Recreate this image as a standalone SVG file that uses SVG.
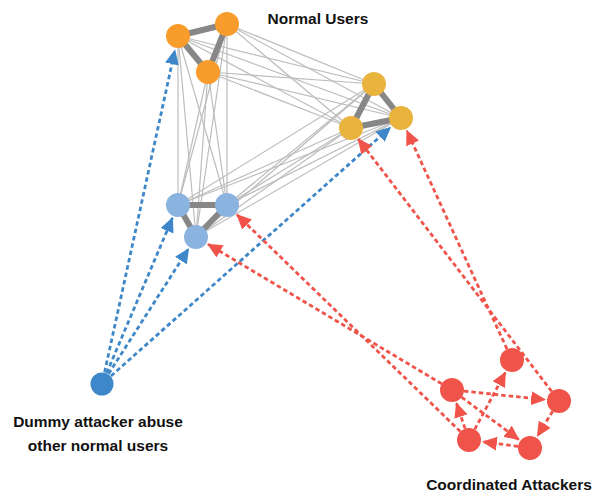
<svg xmlns="http://www.w3.org/2000/svg" width="593" height="496" viewBox="0 0 593 496">
<style>
.thin{stroke:#bdbdbd;stroke-width:1.2;fill:none}
.thick{stroke:#878787;stroke-width:6;fill:none}
.db{stroke:#3e87c9;stroke-width:2.8;stroke-dasharray:4.5 3;fill:none;marker-end:url(#ab)}
.dr{stroke:#ef534a;stroke-width:2.8;stroke-dasharray:4.5 3;fill:none;marker-end:url(#ar)}
.or{fill:#f89c2c}.ye{fill:#e9b43e}.lb{fill:#8bb3e0}.du{fill:#3e87c9}.rd{fill:#ef534a}
text{font-family:"Liberation Sans",Arial,sans-serif;font-weight:bold;font-size:15.5px;fill:#111;text-anchor:middle}
</style>
<defs>
<marker id="ab" markerUnits="userSpaceOnUse" markerWidth="15" markerHeight="14" viewBox="0 0 15 14" refX="14" refY="7" orient="auto"><path d="M0,0 L15,7 L0,14 z" fill="#3e87c9"/></marker>
<marker id="ar" markerUnits="userSpaceOnUse" markerWidth="15" markerHeight="14" viewBox="0 0 15 14" refX="14" refY="7" orient="auto"><path d="M0,0 L15,7 L0,14 z" fill="#ef534a"/></marker>
</defs>
<g id="connectors">
<g id="thin-edges">
<line class="thin" x1="178" y1="36" x2="374" y2="84"/>
<line class="thin" x1="178" y1="36" x2="401" y2="118"/>
<line class="thin" x1="178" y1="36" x2="351" y2="128"/>
<line class="thin" x1="227" y1="24" x2="374" y2="84"/>
<line class="thin" x1="227" y1="24" x2="401" y2="118"/>
<line class="thin" x1="227" y1="24" x2="351" y2="128"/>
<line class="thin" x1="208" y1="72" x2="374" y2="84"/>
<line class="thin" x1="208" y1="72" x2="401" y2="118"/>
<line class="thin" x1="208" y1="72" x2="351" y2="128"/>
<line class="thin" x1="178" y1="36" x2="178" y2="205"/>
<line class="thin" x1="178" y1="36" x2="227" y2="205"/>
<line class="thin" x1="178" y1="36" x2="196" y2="237"/>
<line class="thin" x1="227" y1="24" x2="178" y2="205"/>
<line class="thin" x1="227" y1="24" x2="227" y2="205"/>
<line class="thin" x1="227" y1="24" x2="196" y2="237"/>
<line class="thin" x1="208" y1="72" x2="178" y2="205"/>
<line class="thin" x1="208" y1="72" x2="227" y2="205"/>
<line class="thin" x1="208" y1="72" x2="196" y2="237"/>
<line class="thin" x1="374" y1="84" x2="178" y2="205"/>
<line class="thin" x1="374" y1="84" x2="227" y2="205"/>
<line class="thin" x1="374" y1="84" x2="196" y2="237"/>
<line class="thin" x1="401" y1="118" x2="178" y2="205"/>
<line class="thin" x1="401" y1="118" x2="227" y2="205"/>
<line class="thin" x1="401" y1="118" x2="196" y2="237"/>
<line class="thin" x1="351" y1="128" x2="178" y2="205"/>
<line class="thin" x1="351" y1="128" x2="227" y2="205"/>
<line class="thin" x1="351" y1="128" x2="196" y2="237"/>
</g>
<g id="thick-edges">
<line class="thick" x1="178" y1="36" x2="227" y2="24"/>
<line class="thick" x1="227" y1="24" x2="208" y2="72"/>
<line class="thick" x1="178" y1="36" x2="208" y2="72"/>
<line class="thick" x1="374" y1="84" x2="401" y2="118"/>
<line class="thick" x1="374" y1="84" x2="351" y2="128"/>
<line class="thick" x1="401" y1="118" x2="351" y2="128"/>
<line class="thick" x1="178" y1="205" x2="227" y2="205"/>
<line class="thick" x1="178" y1="205" x2="196" y2="237"/>
<line class="thick" x1="227" y1="205" x2="196" y2="237"/>
</g>
<g id="blue-arrows">
<line class="db" x1="104.6" y1="372.3" x2="174.9" y2="50.3"/>
<line class="db" x1="106.7" y1="373.0" x2="172.5" y2="217.9"/>
<line class="db" x1="108.5" y1="373.9" x2="188.5" y2="248.8"/>
<line class="db" x1="111.0" y1="376.0" x2="390.5" y2="127.3"/>
</g>
<g id="red-arrows">
<line class="dr" x1="460.4" y1="431.6" x2="237.0" y2="214.8"/>
<line class="dr" x1="441.7" y1="383.8" x2="208.0" y2="244.2"/>
<line class="dr" x1="551.7" y1="391.5" x2="358.3" y2="139.1"/>
<line class="dr" x1="507.0" y1="349.1" x2="406.8" y2="130.7"/>
<line class="dr" x1="465.1" y1="428.6" x2="456.5" y2="403.3"/>
<line class="dr" x1="474.7" y1="429.4" x2="505.4" y2="372.3"/>
<line class="dr" x1="463.9" y1="391.2" x2="545.1" y2="399.6"/>
<line class="dr" x1="461.6" y1="397.2" x2="518.8" y2="439.6"/>
<line class="dr" x1="552.7" y1="411.2" x2="537.4" y2="436.1"/>
<line class="dr" x1="518.1" y1="446.4" x2="482.9" y2="441.8"/>
</g>
</g>
<g id="nodeA"><circle class="or" cx="178" cy="36" r="12"/></g>
<g id="nodeB"><circle class="or" cx="227" cy="24" r="12"/></g>
<g id="nodeC"><circle class="or" cx="208" cy="72" r="12"/></g>
<g id="nodeD"><circle class="ye" cx="374" cy="84" r="12"/></g>
<g id="nodeE"><circle class="ye" cx="401" cy="118" r="12"/></g>
<g id="nodeF"><circle class="ye" cx="351" cy="128" r="12"/></g>
<g id="nodeG"><circle class="lb" cx="178" cy="205" r="12"/></g>
<g id="nodeH"><circle class="lb" cx="227" cy="205" r="12"/></g>
<g id="nodeI"><circle class="lb" cx="196" cy="237" r="12"/></g>
<g id="dummy"><circle class="du" cx="102" cy="384" r="11.5"/></g>
<g id="attK"><circle class="rd" cx="512" cy="360" r="12"/></g>
<g id="attL"><circle class="rd" cx="452" cy="390" r="12"/></g>
<g id="attM"><circle class="rd" cx="559" cy="401" r="12"/></g>
<g id="attN"><circle class="rd" cx="469" cy="440" r="12"/></g>
<g id="attO"><circle class="rd" cx="530" cy="448" r="12"/></g>
<g id="labels">
<text x="318" y="24">Normal Users</text>
<text x="98" y="427">Dummy attacker abuse</text>
<text x="98" y="451">other normal users</text>
<text x="509" y="490">Coordinated Attackers</text>
</g>
</svg>
